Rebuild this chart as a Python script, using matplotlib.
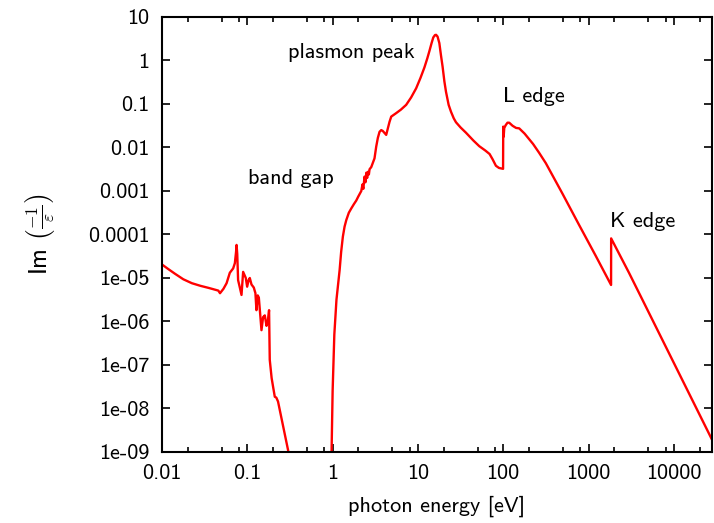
import numpy as np
import matplotlib
matplotlib.use("Agg")
import matplotlib.pyplot as plt
from matplotlib.ticker import FixedLocator, NullFormatter

plt.rcParams['font.family'] = ['cmss10', 'DejaVu Sans']
plt.rcParams['mathtext.fontset'] = 'cm'
plt.rcParams['axes.unicode_minus'] = False

# energy loss function of silicon (log10 values)
# low energy part (phonons), drops below the plot around 0.3 eV
log_e_low = [-2.00, -1.93, -1.85, -1.75, -1.65, -1.55, -1.45, -1.34, -1.32,
             -1.28, -1.243, -1.205, -1.166, -1.146, -1.132, -1.126, -1.118,
             -1.108, -1.09, -1.068, -1.049, -1.018, -1.002, -0.985, -0.971,
             -0.951, -0.924, -0.905, -0.893, -0.878, -0.865, -0.834, -0.815,
             -0.795, -0.775, -0.760, -0.745, -0.737, -0.715, -0.698, -0.678,
             -0.660, -0.640, -0.523, -0.50]
log_l_low = [-4.69, -4.79, -4.90, -5.03, -5.12, -5.18, -5.23, -5.29, -5.35,
             -5.25, -5.12, -4.88, -4.78, -4.66, -4.40, -4.24, -4.45,
             -5.05, -5.20, -5.39, -4.86, -5.00, -5.20, -5.05, -5.00,
             -5.15, -5.22, -5.35, -5.74, -5.40, -5.45, -6.20, -5.90,
             -5.86, -6.10, -6.00, -5.74, -6.88, -7.30, -7.50, -7.73,
             -7.75, -7.84, -8.95, -9.20]

# above the band gap: interband, plasmon, L edge, K edge
log_e_high = [-0.015, 0.0, 0.02, 0.045, 0.082, 0.10, 0.12, 0.14, 0.16, 0.19,
              0.219, 0.25, 0.277, 0.30, 0.336, 0.35, 0.36, 0.374, 0.385,
              0.395, 0.405, 0.413, 0.425, 0.433, 0.453, 0.491, 0.511, 0.530,
              0.550, 0.570, 0.588, 0.628, 0.667, 0.687, 0.745, 0.80, 0.862,
              0.92, 0.979, 1.03, 1.076, 1.11, 1.135, 1.16, 1.18, 1.20, 1.213,
              1.23, 1.251, 1.27, 1.289, 1.31, 1.329, 1.36, 1.388, 1.42, 1.446,
              1.50, 1.563, 1.65, 1.719, 1.79, 1.84, 1.875, 1.914, 1.95, 1.973,
              1.998, 2.0, 2.005, 2.012, 2.031, 2.05, 2.07, 2.109, 2.15, 2.187,
              2.25, 2.35, 2.42, 2.499, 2.694, 2.889, 3.084, 3.264, 3.265,
              3.474, 3.629, 4.448, 4.50]
log_l_high = [-9.30, -7.60, -6.30, -5.50, -4.82, -4.40, -4.05, -3.82, -3.67, -3.50,
              -3.40, -3.30, -3.22, -3.13, -3.00, -2.85, -2.95, -2.67, -2.80,
              -2.58, -2.70, -2.56, -2.62, -2.50, -2.45, -2.25, -1.98, -1.78,
              -1.64, -1.60, -1.62, -1.71, -1.41, -1.29, -1.21, -1.13, -1.02,
              -0.85, -0.64, -0.40, -0.16, 0.05, 0.22, 0.40, 0.53, 0.585, 0.59,
              0.55, 0.40, 0.12, -0.14, -0.48, -0.72, -1.02, -1.18, -1.33, -1.42,
              -1.54, -1.66, -1.84, -1.97, -2.07, -2.15, -2.27, -2.42, -2.47, -2.48,
              -2.49, -1.52, -1.75, -1.55, -1.48, -1.43, -1.43, -1.50, -1.55, -1.56,
              -1.68, -1.92, -2.12, -2.36, -3.06, -3.78, -4.49, -5.16, -4.09,
              -4.88, -5.49, -8.72, -8.93]

x_ticks = [0.01, 0.1, 1, 10, 100, 1000, 10000]
x_labels = ['0.01', '0.1', '1', '10', '100', '1000', '10000']
y_ticks = [1e-9, 1e-8, 1e-7, 1e-6, 1e-5, 1e-4, 1e-3, 1e-2, 1e-1, 1, 10]
y_labels = ['1e-09', '1e-08', '1e-07', '1e-06', '1e-05', '0.0001', '0.001',
            '0.01', '0.1', '1', '10']

notes = ['plasmon peak', 'band gap', 'L edge', 'K edge']
note_x = [0.3, 0.101, 100, 1800]
note_y = [1.5, 0.0019, 0.145, 2e-4]

fig = plt.figure(figsize=(7.14, 5.23), dpi=100)
ax = fig.add_axes([0.2269, 0.1358, 0.7703, 0.8317])

ax.plot(10 ** np.array(log_e_low), 10 ** np.array(log_l_low), color='red', lw=1.7)
ax.plot(10 ** np.array(log_e_high), 10 ** np.array(log_l_high), color='red', lw=1.7)

ax.set_xscale('log')
ax.set_yscale('log')
ax.set_xlim(0.01, 28000)
ax.set_ylim(1e-9, 10)

ax.xaxis.set_major_locator(FixedLocator(x_ticks))
ax.set_xticklabels(x_labels)
minor_x = [m * d for d in [0.01, 0.1, 1, 10, 100, 1000, 10000] for m in (2, 5, 8)]
ax.xaxis.set_minor_locator(FixedLocator(minor_x))
ax.xaxis.set_minor_formatter(NullFormatter())
ax.yaxis.set_major_locator(FixedLocator(y_ticks))
ax.set_yticklabels(y_labels)
ax.yaxis.set_minor_locator(FixedLocator([]))

ax.tick_params(which='both', direction='in', top=True, right=True, labelsize=16, width=1.2)
ax.tick_params(which='major', length=6, pad=9)
ax.tick_params(which='minor', length=3.5)
for s in ax.spines.values():
    s.set_linewidth(1.5)

for t, x, y in zip(notes, note_x, note_y):
    ax.text(x, y, t, fontsize=16, ha='left', va='center')

ax.set_xlabel('photon energy [eV]', fontsize=16, labelpad=9)
ax.set_ylabel(r'Im $\left(\frac{-1}{\varepsilon}\right)$', fontsize=18, labelpad=22)

fig.savefig('out.png', dpi=100)
